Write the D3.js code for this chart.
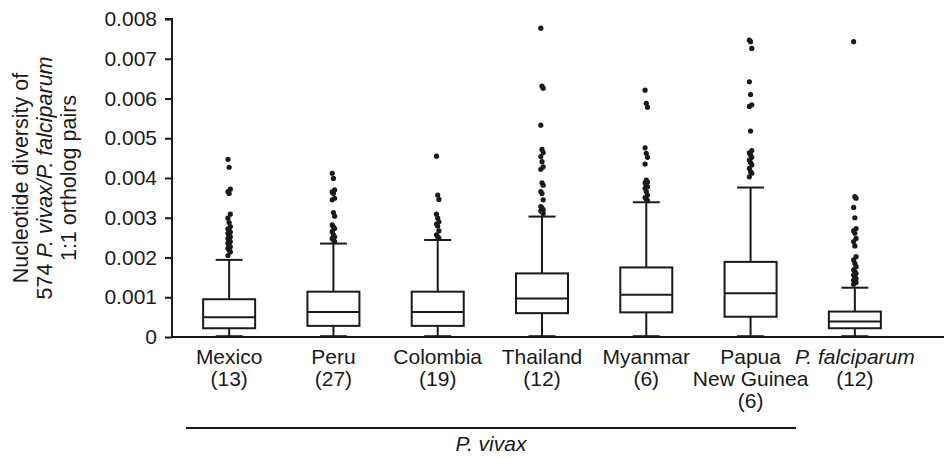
<!DOCTYPE html>
<html>
<head>
<meta charset="utf-8">
<script src="https://cdn.jsdelivr.net/npm/d3@7"></script>
<style>
  body { margin: 0; background: #fff; }
  svg { display: block; font-family: "Liberation Sans", Arial, sans-serif; }
</style>
</head>
<body>
<div id="chart"></div>
<script>
// categories + sample counts
const groups = ["Mexico", "Peru", "Colombia", "Thailand", "Myanmar", "Papua New Guinea", "P. falciparum"];
const counts = [13, 27, 19, 12, 6, 6, 12];
const labelLines = [["Mexico"], ["Peru"], ["Colombia"], ["Thailand"], ["Myanmar"], ["Papua", "New Guinea"], ["P. falciparum"]];

// box stats
const whiskerLow  = [0.00002, 0.00002, 0.00002, 0.00002, 0.00002, 0.00002, 0.00002];
const q1          = [0.00022, 0.00028, 0.00028, 0.00060, 0.00062, 0.00051, 0.00022];
const medians     = [0.00050, 0.00063, 0.00063, 0.00097, 0.00106, 0.00110, 0.00039];
const q3          = [0.00095, 0.00114, 0.00114, 0.00160, 0.00175, 0.00189, 0.00064];
const whiskerHigh = [0.00194, 0.00235, 0.00244, 0.00303, 0.00339, 0.00376, 0.00124];

// outlying genes per group
const outMexico = [0.00447, 0.00427, 0.00372, 0.00366, 0.00361, 0.00309, 0.00299, 0.00288, 0.00278,
  0.00272, 0.00269, 0.00264, 0.00261, 0.00256, 0.00252, 0.00248, 0.00244, 0.0024, 0.00236, 0.00231,
  0.00227, 0.00223, 0.00219, 0.00214, 0.00205];
const outPeru = [0.00412, 0.00399, 0.0037, 0.00365, 0.00361, 0.00349, 0.00345, 0.00313, 0.00304,
  0.00282, 0.00277, 0.00273, 0.00265, 0.00257, 0.00252, 0.00248, 0.00244, 0.0024];
const outColombia = [0.00455, 0.00357, 0.00346, 0.00309, 0.00299, 0.0029, 0.00284, 0.00279,
  0.00267, 0.00257, 0.00252, 0.00249];
const outThailand = [0.00777, 0.00631, 0.00626, 0.00533, 0.00472, 0.00464, 0.00454, 0.00441,
  0.00428, 0.00422, 0.00388, 0.00382, 0.00366, 0.00361, 0.00345, 0.00328, 0.00324, 0.0032,
  0.00317, 0.00315, 0.00311];
const outMyanmar = [0.00621, 0.00588, 0.00578, 0.00476, 0.00462, 0.00452, 0.00435, 0.00395,
  0.0039, 0.00388, 0.00382, 0.00378, 0.00374, 0.00366, 0.00357, 0.00351, 0.00347, 0.00343];
const outPapua = [0.00747, 0.00743, 0.00726, 0.00642, 0.0061, 0.00584, 0.0058, 0.00518, 0.00469,
  0.00463, 0.00458, 0.00452, 0.00445, 0.00439, 0.00433, 0.00424, 0.00416, 0.00412, 0.00403];
const outFalciparum = [0.00743, 0.00353, 0.00349, 0.00326, 0.003, 0.00273, 0.00267, 0.00261,
  0.00248, 0.0024, 0.00229, 0.00202, 0.00194, 0.00185, 0.00177, 0.00169, 0.00164, 0.0016,
  0.00156, 0.00152, 0.00147, 0.00143, 0.0014, 0.00137, 0.00133];
const outliers = [outMexico, outPeru, outColombia, outThailand, outMyanmar, outPapua, outFalciparum];

const yTicks = [0, 0.001, 0.002, 0.003, 0.004, 0.005, 0.006, 0.007, 0.008];

const width = 952, height = 458;
const ink = "#1a1a1a";

const svg = d3.select("#chart").append("svg")
  .attr("width", width)
  .attr("height", height);

const x = d3.scaleBand()
  .domain(groups)
  .range([177, 907]);

const y = d3.scaleLinear()
  .domain([0, 0.008])
  .range([337, 19]);

const axisX0 = 172;

// y axis
const yAxis = svg.append("g")
  .attr("transform", `translate(${axisX0},0)`)
  .call(d3.axisLeft(y).tickValues(yTicks).tickSize(7).tickPadding(8)
    .tickFormat(d => d === 0 ? "0" : d3.format(".3f")(d)));
yAxis.select(".domain").attr("d", `M-7,${y(0.008)}H0V${y(0)}`).attr("stroke", ink).attr("stroke-width", 2);
yAxis.selectAll(".tick line").attr("stroke", ink).attr("stroke-width", 2);
yAxis.selectAll(".tick text").attr("font-size", 21).attr("fill", ink)
  .attr("font-family", "Liberation Sans, Arial, sans-serif");

// x axis line (no ticks)
svg.append("line")
  .attr("x1", axisX0).attr("x2", 944)
  .attr("y1", y(0)).attr("y2", y(0))
  .attr("stroke", ink).attr("stroke-width", 2);

// y label, 3 lines rotated
const yl = svg.append("text")
  .attr("transform", "translate(0,178) rotate(-90)")
  .attr("text-anchor", "middle")
  .attr("font-size", 21.5)
  .attr("fill", ink);
yl.append("tspan").attr("x", 0).attr("y", 28).text("Nucleotide diversity of");
const l2 = yl.append("tspan").attr("x", 0).attr("y", 52);
l2.append("tspan").text("574 ");
l2.append("tspan").attr("font-style", "italic").text("P. vivax/P. falciparum");
yl.append("tspan").attr("x", 0).attr("y", 76).text("1:1 ortholog pairs");

// boxes
const boxW = 52, capW = 27;
const g = svg.selectAll(".box")
  .data(groups)
  .enter().append("g")
  .attr("class", "box")
  .attr("transform", d => `translate(${x(d) + x.bandwidth() / 2},0)`);

g.append("line") // whisker stem
  .attr("x1", 0).attr("x2", 0)
  .attr("y1", (d, i) => y(whiskerLow[i]))
  .attr("y2", (d, i) => y(whiskerHigh[i]))
  .attr("stroke", ink).attr("stroke-width", 2);

g.append("line") // upper cap
  .attr("x1", -capW / 2).attr("x2", capW / 2)
  .attr("y1", (d, i) => y(whiskerHigh[i]))
  .attr("y2", (d, i) => y(whiskerHigh[i]))
  .attr("stroke", ink).attr("stroke-width", 2);

g.append("line") // lower cap
  .attr("x1", -capW / 2).attr("x2", capW / 2)
  .attr("y1", (d, i) => y(whiskerLow[i]))
  .attr("y2", (d, i) => y(whiskerLow[i]))
  .attr("stroke", ink).attr("stroke-width", 2);

g.append("rect")
  .attr("x", -boxW / 2)
  .attr("width", boxW)
  .attr("y", (d, i) => y(q3[i]))
  .attr("height", (d, i) => y(q1[i]) - y(q3[i]))
  .attr("fill", "#fff")
  .attr("stroke", ink).attr("stroke-width", 2);

g.append("line") // median
  .attr("x1", -boxW / 2).attr("x2", boxW / 2)
  .attr("y1", (d, i) => y(medians[i]))
  .attr("y2", (d, i) => y(medians[i]))
  .attr("stroke", ink).attr("stroke-width", 2);

// outlier dots, tiny horizontal spread like the original
g.each(function(d, i) {
  d3.select(this).selectAll("circle")
    .data(outliers[i])
    .enter().append("circle")
    .attr("cx", (v, j) => ((j % 3) - 1) * 1.2)
    .attr("cy", v => y(v))
    .attr("r", 2.6)
    .attr("fill", ink);
});

// category labels
const lab = svg.selectAll(".cat")
  .data(groups)
  .enter().append("text")
  .attr("class", "cat")
  .attr("text-anchor", "middle")
  .attr("font-size", 21)
  .attr("fill", ink);

lab.each(function(d, i) {
  const t = d3.select(this);
  const cx = x(d) + x.bandwidth() / 2;
  const lines = labelLines[i].concat([`(${counts[i]})`]);
  lines.forEach((s, k) => {
    t.append("tspan")
      .attr("x", cx)
      .attr("y", 364 + k * 22)
      .attr("font-style", s.startsWith("P. ") ? "italic" : null)
      .text(s);
  });
});

// P. vivax bracket
svg.append("line")
  .attr("x1", 186).attr("x2", 796)
  .attr("y1", 428).attr("y2", 428)
  .attr("stroke", ink).attr("stroke-width", 2);

svg.append("text")
  .attr("x", 491).attr("y", 451)
  .attr("text-anchor", "middle")
  .attr("font-size", 21)
  .attr("font-style", "italic")
  .attr("fill", ink)
  .text("P. vivax");
</script>
</body>
</html>
